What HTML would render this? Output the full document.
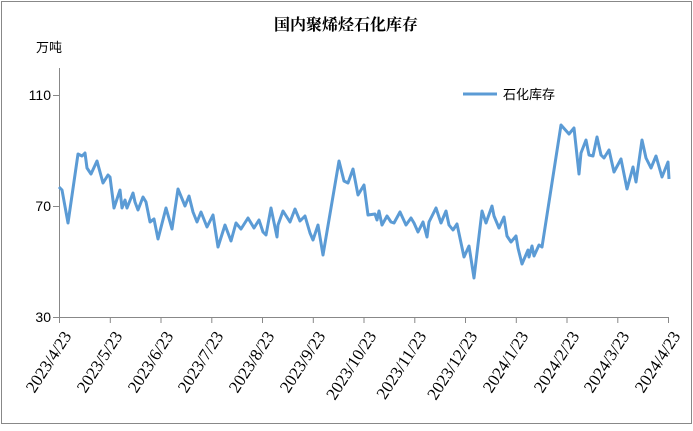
<!DOCTYPE html>
<html><head><meta charset="utf-8"><style>
html,body{margin:0;padding:0;background:#fff}
</style></head><body>
<svg width="693" height="426" xmlns="http://www.w3.org/2000/svg">
<rect x="1.5" y="1.5" width="690" height="422" fill="#fff" stroke="#888" stroke-width="1"/>
<text x="346" y="30" text-anchor="middle" font-family="'Liberation Serif','Noto Serif CJK SC',serif" font-size="16" font-weight="bold" fill="#000">国内聚烯烃石化库存</text>
<text x="36" y="52" font-family="'Liberation Sans','Noto Sans CJK SC',sans-serif" font-size="13" fill="#000">万吨</text>
<g font-family="'Liberation Sans',sans-serif" font-size="14" fill="#000" text-anchor="end">
<text x="51" y="100">110</text>
<text x="51" y="211">70</text>
<text x="51" y="322">30</text>
</g>
<g stroke="#888" stroke-width="1" fill="none">
<path d="M59.5 68V317.5H668.5"/>
<path d="M53 95.5H59.5M53 206.5H59.5M53 317.5H59.5"/>
<path d="M59.5 317V323M110.3 317V323M161 317V323M211.8 317V323M262.5 317V323M313.3 317V323M364 317V323M414.8 317V323M465.5 317V323M516.3 317V323M567 317V323M617.8 317V323M668.5 317V323"/>
</g>
<g font-family="'Liberation Serif',serif" font-size="17" fill="#000" text-anchor="end">
<text transform="translate(72,336) rotate(-57)">2023/4/23</text>
<text transform="translate(123,336) rotate(-57)">2023/5/23</text>
<text transform="translate(174,336) rotate(-57)">2023/6/23</text>
<text transform="translate(224,336) rotate(-57)">2023/7/23</text>
<text transform="translate(275,336) rotate(-57)">2023/8/23</text>
<text transform="translate(326,336) rotate(-57)">2023/9/23</text>
<text transform="translate(377,336) rotate(-57)">2023/10/23</text>
<text transform="translate(427,336) rotate(-57)">2023/11/23</text>
<text transform="translate(478,336) rotate(-57)">2023/12/23</text>
<text transform="translate(529,336) rotate(-57)">2024/1/23</text>
<text transform="translate(580,336) rotate(-57)">2024/2/23</text>
<text transform="translate(630,336) rotate(-57)">2024/3/23</text>
<text transform="translate(681,336) rotate(-57)">2024/4/23</text>
</g>
<line x1="463" y1="94" x2="497" y2="94" stroke="#5b9bd5" stroke-width="3"/>
<text x="503" y="99" font-family="'Liberation Sans','Noto Sans CJK SC',sans-serif" font-size="13" fill="#000">石化库存</text>
<polyline fill="none" stroke="#5b9bd5" stroke-width="3" stroke-linejoin="round" points="59,187 62,190 68,223 78,154 82,156 85,153 87,168 91,174 97,161 103,183 108,175 110,177 114,208 120,190 122,208 125,200 127,208 133,193 135,202 138,210 143,197 146,202 150,222 154,219 158,239 166,208 172,229 178,189 185,206 189,196 193,212 197,222 201,212 207,227 213,215 218,247 225,225 231,241 236,223 241,229 248,218 254,228 259,220 263,232 266,235 271,208 277,237 278,225 283,211 290,222 295,209 300,221 305,216 310,233 313,240 318,225 323,255 339,161 344,181 348,183 353,169 358,195 364,185 368,215 375,214 377,220 379,211 382,225 387,216 391,222 394,223 400,212 406,225 411,218 414,223 418,232 423,222 427,237 429,222 436,208 441,223 446,211 449,225 453,230 457,224 464,257 469,246 474,278 482,211 486,223 492,206 494,216 499,228 504,217 507,236 511,242 516,236 518,248 522,264 528,250 529,257 532,246 534,256 539,245 542,247 561,125 569,134 574,128 579,174 581,153 586,140 589,155 593,156 597,137 601,155 604,158 609,150 614,172 621,159 627,189 633,167 636,182 642,140 646,158 651,168 656,156 662,177 668,162 669,179"/>
</svg>
</body></html>
